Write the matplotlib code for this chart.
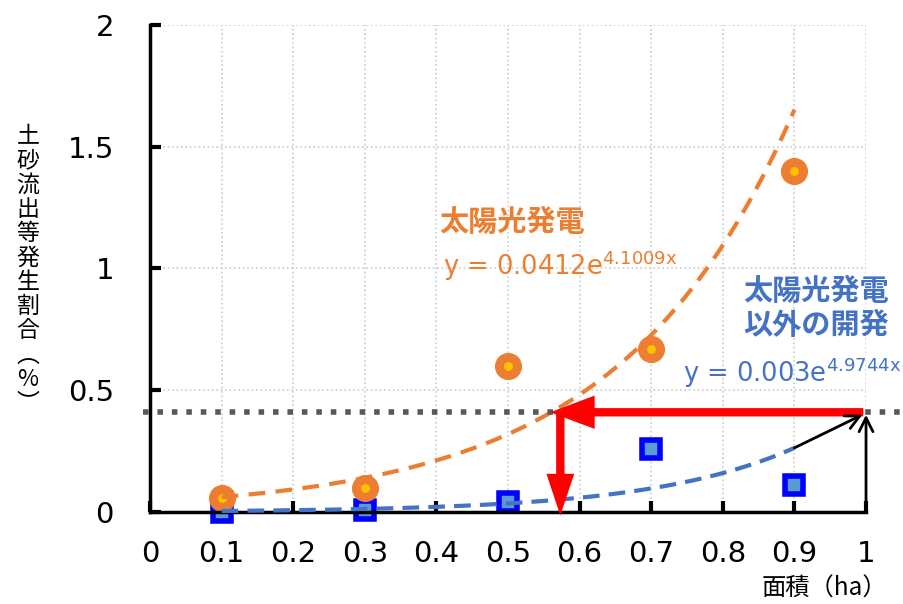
import numpy as np
import matplotlib
import matplotlib.pyplot as plt
from matplotlib.patches import FancyArrowPatch

matplotlib.use('AGG')
plt.rcParams['font.family'] = ['DejaVu Sans', 'Noto Sans CJK JP']

# data
area = [0.1, 0.3, 0.5, 0.7, 0.9]
solar = [0.06, 0.10, 0.60, 0.67, 1.40]
other = [0.00, 0.01, 0.04, 0.26, 0.11]

# trendline coefficients shown on the chart (y = a * e^(b x))
solar_a, solar_b = 0.0412, 4.1009
other_a, other_b = 0.003, 4.9744

threshold = 0.41
cross_x = 0.573

xticks = [0, 0.1, 0.2, 0.3, 0.4, 0.5, 0.6, 0.7, 0.8, 0.9, 1]
xticklabels = ['0', '0.1', '0.2', '0.3', '0.4', '0.5', '0.6', '0.7', '0.8', '0.9', '1']
yticks = [0, 0.5, 1, 1.5, 2]
yticklabels = ['0', '0.5', '1', '1.5', '2']

orange = '#ED7D31'
blue = '#4472C4'

fig = plt.figure(figsize=(9.04, 6.04), dpi=100)
ax = fig.add_axes([0.166, 0.152, 0.792, 0.807])

ax.set_xlim(0, 1)
ax.set_ylim(0, 2)
ax.set_xticks(xticks)
ax.set_xticklabels(xticklabels)
ax.set_yticks(yticks)
ax.set_yticklabels(yticklabels)
ax.tick_params(direction='in', length=8, width=3, labelsize=21)
ax.tick_params(axis='y', pad=26)
ax.tick_params(axis='x', pad=20)
for s in ['top', 'right']:
    ax.spines[s].set_visible(False)
for s in ['left', 'bottom']:
    ax.spines[s].set_linewidth(2.5)
    ax.spines[s].set_zorder(5)
ax.grid(True, linestyle=':', color='#cccccc', linewidth=1.2)
ax.set_axisbelow(True)

# markers
ax.plot(area, other, linestyle='none', marker='s', markersize=13.5,
        markerfacecolor='#5B9BD5', markeredgecolor='#0000FF',
        markeredgewidth=4, zorder=3, clip_on=False)
ax.plot(area, solar, linestyle='none', marker='o', markersize=13,
        markerfacecolor='#FFC000', markeredgecolor=orange,
        markeredgewidth=6.5, zorder=4, clip_on=False)

# trendlines
xs = np.linspace(0.1, 0.9, 200)
ax.plot(xs, solar_a * np.exp(solar_b * xs), color=orange, lw=3,
        dashes=(4, 2.5), zorder=6)
ax.plot(xs, other_a * np.exp(other_b * xs), color=blue, lw=3,
        dashes=(4, 2.2), zorder=6, clip_on=False)

# threshold dotted line
ax.plot([-0.01, 1.05], [threshold, threshold], color='#595959', lw=4,
        dashes=(1, 1.6), zorder=6, clip_on=False)

# red arrows
a1 = FancyArrowPatch((1.0, threshold), (cross_x - 0.018, threshold),
                     arrowstyle='simple,head_length=0.8,head_width=0.6,tail_width=0.15',
                     mutation_scale=40, color='red', lw=0, zorder=8)
ax.add_patch(a1)
a2 = FancyArrowPatch((cross_x, threshold + 0.015), (cross_x, -0.025),
                     arrowstyle='simple,head_length=0.75,head_width=0.5,tail_width=0.15',
                     mutation_scale=40, color='red', lw=0, zorder=8, clip_on=False)
ax.add_patch(a2)

# black arrows
ax.annotate('', xy=(1.0, threshold - 0.01), xytext=(1.0, 0.0),
            arrowprops=dict(arrowstyle='->', color='black', lw=2,
                            mutation_scale=25, shrinkA=0, shrinkB=0),
            zorder=9, annotation_clip=False)
ax.annotate('', xy=(0.995, threshold - 0.01), xytext=(0.9, 0.264),
            arrowprops=dict(arrowstyle='->', color='black', lw=2,
                            mutation_scale=25, shrinkA=0, shrinkB=0),
            zorder=9, annotation_clip=False)

# annotations
ax.text(0.404, 1.19, '太陽光発電', color=orange, fontsize=21,
        fontweight='bold', family=['Noto Sans CJK JP'], ha='left', va='center')
ax.text(0.409, 0.973, 'y = 0.0412e$^{\\mathregular{4.1009x}}$', color=orange,
        fontsize=18.5, ha='left', va='baseline')
ax.text(0.93, 0.838, '太陽光発電\n以外の開発', color=blue, fontsize=21,
        fontweight='bold', family=['Noto Sans CJK JP'], ha='center', va='center',
        linespacing=1.15)
ax.text(0.745, 0.534, 'y = 0.003e$^{\\mathregular{4.9744x}}$', color=blue,
        fontsize=18.5, ha='left', va='baseline')

# axis titles
ylab = '\n'.join(list('土砂流出等発生割合') + ['︵', '%', '︶'])
fig.text(0.031, 0.553, ylab, fontsize=16.5, ha='center', va='center',
         family=['Noto Sans CJK JP', 'DejaVu Sans'], linespacing=1.07)
fig.text(0.912, 0.004, '面積（ha）', fontsize=17.5, ha='center', va='bottom',
         family=['Noto Sans CJK JP', 'DejaVu Sans'])

fig.savefig('out.png', dpi=100)
